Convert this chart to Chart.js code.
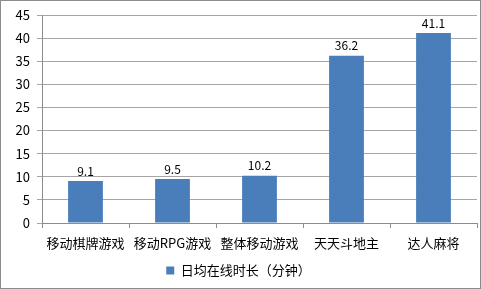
<!DOCTYPE html>
<html>
<head>
<meta charset="utf-8">
<script src="https://cdn.jsdelivr.net/npm/chart.js@4/dist/chart.umd.min.js"></script>
<style>
  html, body { margin: 0; padding: 0; background: #fff; }
  #wrap { position: relative; width: 481px; height: 289px; box-sizing: border-box; border: 1px solid #8c8c8c; }
  canvas { position: absolute; left: -1px; top: -1px; }
</style>
</head>
<body>
<div id="wrap"><canvas id="barChart" width="481" height="289"></canvas></div>
<script>
  const categories = ['移动棋牌游戏', '移动RPG游戏', '整体移动游戏', '天天斗地主', '达人麻将'];
  const minutes = [9.1, 9.5, 10.2, 36.2, 41.1];
  const seriesName = '日均在线时长（分钟）';

  const fontFamily = '"Noto Sans CJK SC", "DejaVu Sans", sans-serif';

  // value labels above each bar
  const valueLabels = {
    id: 'valueLabels',
    afterDatasetsDraw(chart) {
      const c = chart.ctx;
      c.save();
      c.font = '12px ' + fontFamily;
      c.fillStyle = '#000';
      c.textAlign = 'center';
      c.textBaseline = 'bottom';
      chart.getDatasetMeta(0).data.forEach((bar, i) => {
        c.fillText(minutes[i].toFixed(1), bar.x, bar.y - 4);
      });
      c.restore();
    }
  };

  const ctx = document.getElementById('barChart').getContext('2d');

  new Chart(ctx, {
    type: 'bar',
    data: {
      labels: categories,
      datasets: [{
        label: seriesName,
        data: minutes,
        backgroundColor: '#4a7ebb',
        borderWidth: 0,
        categoryPercentage: 1,
        barPercentage: 0.4
      }]
    },
    options: {
      responsive: false,
      animation: false,
      layout: { padding: { top: 15, right: 4, bottom: 2, left: 0 } },
      plugins: {
        legend: {
          position: 'bottom',
          labels: {
            boxWidth: 8,
            boxHeight: 8,
            padding: 9,
            color: '#000',
            font: { family: fontFamily, size: 13 }
          }
        },
        tooltip: { enabled: false }
      },
      scales: {
        x: {
          offset: true,
          grid: { offset: true, drawOnChartArea: false, color: '#8c8c8c', tickLength: 5 },
          border: { color: '#8c8c8c' },
          ticks: { color: '#000', padding: 7, maxRotation: 0, autoSkip: false, font: { family: fontFamily, size: 13 } },
          afterFit: (scale) => { scale.height = 32; }
        },
        y: {
          min: 0,
          max: 45,
          ticks: { stepSize: 5, color: '#000', padding: 7, font: { family: fontFamily, size: 13 } },
          grid: { color: '#a6a6a6', tickLength: 5 },
          border: { color: '#8c8c8c' },
          afterFit: (scale) => { scale.width = 42; }
        }
      }
    },
    plugins: [valueLabels]
  });
</script>
</body>
</html>
